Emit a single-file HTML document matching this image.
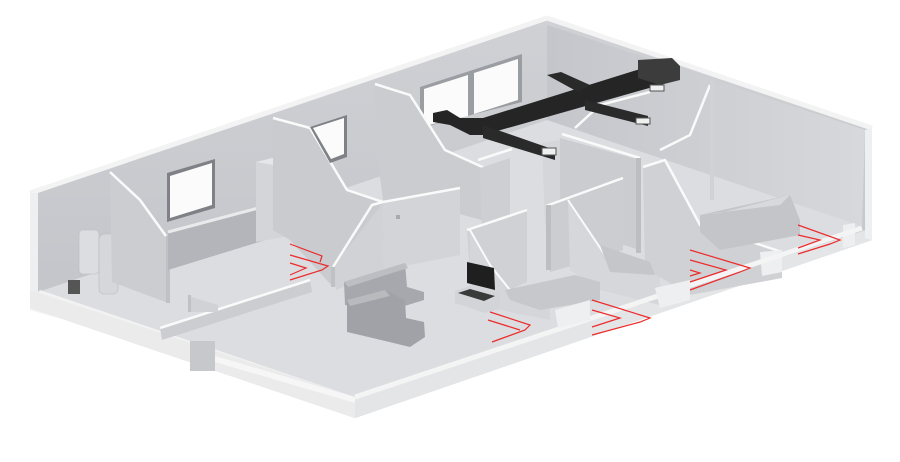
<!DOCTYPE html>
<html><head><meta charset="utf-8"><style>
html,body{margin:0;padding:0;background:#fff;width:900px;height:462px;overflow:hidden}
svg{display:block}
</style></head><body>
<svg width="900" height="462" viewBox="0 0 900 462" xmlns="http://www.w3.org/2000/svg">
<defs>
<linearGradient id="wb" x1="0" y1="0" x2="0" y2="1"><stop offset="0" stop-color="#cfd1d5"/><stop offset="1" stop-color="#bec0c5"/></linearGradient>
<linearGradient id="wr" x1="0" y1="0" x2="1" y2="0"><stop offset="0" stop-color="#c4c6cb"/><stop offset="1" stop-color="#d6d8db"/></linearGradient>
</defs>
<polygon points="30,193 547,18 872,128 872,240 355,418 30,308" fill="url(#wb)"/>
<polygon points="547,25 865,130 862,226 547,120" fill="url(#wr)"/>
<polygon points="38,292 547,120 862,226 355,397" fill="#dcdde0"/>
<polyline points="30,193 547,18 872,128" fill="none" stroke="#f3f3f4" stroke-width="5"/>
<polygon points="30,193 38,193 38,292 30,300" fill="#eeeff0"/>
<polygon points="30,300 38,292 40,290 355,397 355,402 30,310" fill="#f2f2f3"/>
<polygon points="30,290 355,397 355,418 30,308" fill="#ebebec"/>
<polygon points="355,397 872,228 872,240 355,418" fill="#e4e5e7"/>
<polygon points="865,130 872,128 872,240 865,238" fill="#eeeff0"/>
<rect x="79" y="230" width="20" height="44" rx="4" fill="#dcdde0" stroke="#b9bbbf" stroke-width="0.6"/>
<rect x="99" y="234" width="19" height="60" rx="5" fill="#d5d7da" stroke="#b9bbbf" stroke-width="0.6"/>
<rect x="68" y="280" width="12" height="14" fill="#555"/>
<polygon points="110,172 140,200 166,236 168,303 112,282" fill="#cbcdd1"/>
<polyline points="110,172 140,200 166,236" fill="none" stroke="#fafafa" stroke-width="2.5"/>
<rect x="166" y="236" width="4" height="67" fill="#bfc1c5"/>
<polygon points="167,173 215,159 215,208 167,222" fill="#7e8186"/>
<polygon points="170,176 212,163 212,205 170,218" fill="#fbfbfb"/>
<polygon points="168,232 255,208 272,212 272,238 168,270" fill="#b3b5ba"/>
<polyline points="168,232 270,205" stroke="#e9eaeb" stroke-width="3"/>
<polygon points="256,162 290,156 290,236 256,242" fill="#d3d5d8"/>
<polygon points="256,162 272,158 290,160 274,165" fill="#e5e6e8"/>
<polygon points="273,118 310,128 347,190 383,202 383,270 333,287 290,240 273,230" fill="#c9cbcf"/>
<polyline points="273,118 310,128 347,190 383,202" fill="none" stroke="#fafafa" stroke-width="2.5"/>
<polygon points="333,267 383,203 384,270 336,290" fill="#d0d2d6"/>
<polyline points="333,267 372,205 383,202" fill="none" stroke="#fafafa" stroke-width="2.5"/>
<rect x="331" y="267" width="4" height="20" fill="#bfc1c5"/>
<polygon points="310,127 347,115 347,157 330,163" fill="#7e8186"/>
<polygon points="313,128 344,118 344,154 331,159" fill="#fbfbfb"/>
<polygon points="420,87 522,54 522,102 420,128" fill="#9a9da2"/>
<polygon points="424,89 468,75 468,116 424,126" fill="#fbfbfb"/>
<polygon points="474,73 518,59 518,100 474,114" fill="#fbfbfb"/>
<polygon points="375,84 410,95 445,150 500,175 500,225 445,210 385,215 375,140" fill="#cacccf"/>
<polyline points="375,84 410,95 445,150 500,175" fill="none" stroke="#fafafa" stroke-width="2.5"/>
<polygon points="383,203 460,188 460,255 384,270" fill="#d2d4d7"/>
<polyline points="383,202 460,188" stroke="#fafafa" stroke-width="2.5"/>
<rect x="396" y="215" width="4" height="4" fill="#aaa"/>
<polygon points="480,168 510,158 510,222 482,230" fill="#cdcfd3"/>
<polyline points="478,160 512,149" stroke="#fafafa" stroke-width="2.5"/>
<polygon points="542,143 560,140 560,220 545,225" fill="#d4d6d9"/>
<polygon points="560,138 640,160 640,250 560,225" fill="#cacccf"/>
<polyline points="562,134 640,158" stroke="#fafafa" stroke-width="2.5"/>
<rect x="636" y="158" width="5" height="95" fill="#bcbec2"/>
<polyline points="575,128 600,105 650,92" fill="none" stroke="#fafafa" stroke-width="2.5"/>
<polyline points="660,150 690,135 710,85" fill="none" stroke="#fafafa" stroke-width="2.5"/>
<rect x="710" y="80" width="4" height="120" fill="#d0d2d6"/>
<polygon points="467,230 527,210 527,282 505,292 470,275" fill="#cfd1d5"/>
<polyline points="467,230 527,210" stroke="#fafafa" stroke-width="2.5"/>
<polygon points="470,230 490,265 510,290 550,300 550,320 500,310 470,285" fill="#d4d6d9"/>
<polyline points="470,230 490,265 510,290" fill="none" stroke="#fafafa" stroke-width="2"/>
<polygon points="546,206 623,178 623,250 600,258 550,272" fill="#cbcdd1"/>
<polyline points="546,206 623,178" stroke="#fafafa" stroke-width="2.5"/>
<polygon points="568,200 605,255 660,272 660,305 600,290 570,270" fill="#d5d7da"/>
<polyline points="568,200 605,255 668,275" fill="none" stroke="#fafafa" stroke-width="2"/>
<rect x="546" y="205" width="5" height="65" fill="#bcbec2"/>
<polygon points="643,167 665,160 700,225 782,252 782,278 690,295 645,268" fill="#cfd1d5"/>
<polyline points="643,167 665,160 700,225 782,252" fill="none" stroke="#fafafa" stroke-width="2.5"/>
<polygon points="760,252 782,250 782,272 762,276" fill="#eeeff0"/>
<polygon points="700,215 790,195 800,220 800,235 720,250 700,232" fill="#c3c5c9"/>
<polygon points="700,215 720,213 790,195 780,205" fill="#d8d9dc"/>
<polygon points="843,225 855,223 855,245 843,248" fill="#eeeff0"/>
<polygon points="505,290 575,275 600,282 600,300 540,310 510,300" fill="#c6c8cc"/>
<polygon points="600,245 650,262 655,275 610,272" fill="#c4c6ca"/>
<polyline points="355,397 862,228" stroke="#f4f4f5" stroke-width="5"/>
<polygon points="555,310 590,300 590,320 558,328" fill="#eeeff0"/>
<polygon points="655,288 690,280 690,300 660,308" fill="#eeeff0"/>
<polygon points="160,328 310,280 312,292 162,340" fill="#cbcdd1"/>
<polyline points="160,328 310,280" stroke="#fafafa" stroke-width="2.5"/>
<polygon points="188,296 218,305 218,312 188,312" fill="#d0d2d6"/>
<rect x="188" y="295" width="3" height="17" fill="#bfc1c5"/>
<rect x="190" y="341" width="25" height="30" fill="#c6c8cc"/>
<polygon points="215,356 355,397 355,403 215,362" fill="#f6f6f6"/>
<polygon points="344,282 405,263 407,287 424,292 424,300 385,312 360,308 345,305" fill="#a6a8ad"/>
<polygon points="344,282 405,263 408,268 348,287" fill="#bcbec2"/>
<polygon points="347,300 385,290 405,300 406,318 424,322 425,337 410,347 360,335 347,332" fill="#a0a2a7"/>
<polygon points="347,300 385,290 390,296 350,306" fill="#b8babe"/>
<polygon points="467,262 494,268 495,290 467,283" fill="#1f1f1f"/>
<polygon points="455,291 470,286 500,293 500,309 485,313 455,303" fill="#d2d4d7"/>
<polygon points="458,293 470,289 495,296 484,301" fill="#3a3a3a"/>
<polygon points="433,113 447,110 460,118 483,118 653,65 677,68 677,80 660,85 483,135 470,135 450,125 433,122" fill="#252525"/>
<polygon points="483,125 555,150 555,160 483,138" fill="#2a2a2a"/>
<polygon points="585,100 648,116 648,126 585,110" fill="#2a2a2a"/>
<polygon points="547,75 561,72 590,85 578,92" fill="#2a2a2a"/>
<polygon points="638,60 672,58 680,66 680,80 660,85 638,78" fill="#3c3c3c"/>
<rect x="542" y="148" width="14" height="7" fill="#f0f0f0" stroke="#555" stroke-width="1"/>
<rect x="636" y="118" width="14" height="6" fill="#f0f0f0" stroke="#555" stroke-width="1"/>
<rect x="650" y="85" width="14" height="6" fill="#f0f0f0" stroke="#555" stroke-width="1"/>
<g fill="none" stroke="#ec2b2b" stroke-width="1.2">
<polyline points="290,244 322,256 320,262"/>
<polyline points="290,255 328,266 322,270 290,280"/>
<polyline points="290,263 306,268 290,275"/>
<polyline points="488,320 520,330"/>
<polyline points="490,312 530,325 525,330 492,342"/>
<polyline points="592,300 650,318 640,322 592,335"/>
<polyline points="592,310 620,318 592,327"/>
<polyline points="690,250 750,268 740,272 690,290"/>
<polyline points="690,260 726,270 690,282"/>
<polyline points="690,270 700,273 690,276"/>
<polyline points="798,225 840,240 830,244 798,254"/>
<polyline points="798,235 820,240 798,248"/>
</g>
</svg>
</body></html>
